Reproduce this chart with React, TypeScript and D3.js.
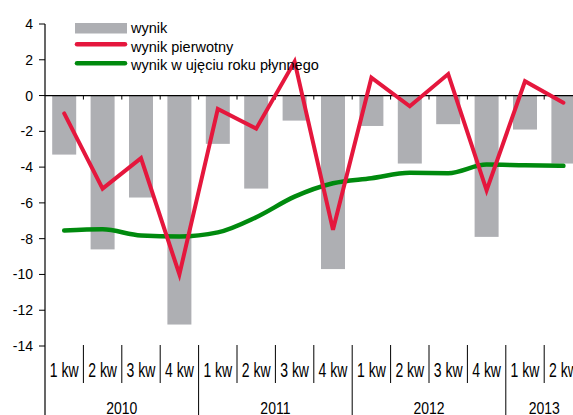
import React from "react";
import * as d3 from "d3";

const quarters = ["1 kw","2 kw","3 kw","4 kw","1 kw","2 kw","3 kw","4 kw","1 kw","2 kw","3 kw","4 kw","1 kw","2 kw"];
const years = ["2010","2011","2012","2013"];
const yearSpans = [4,4,4,2];
const wynik = [-3.3,-8.6,-5.7,-12.8,-2.7,-5.2,-1.4,-9.7,-1.7,-3.8,-1.6,-7.9,-1.9,-3.8];
const pierwotny = [-1.0,-5.2,-3.5,-10.0,-0.75,-1.85,1.9,-7.5,1.0,-0.6,1.2,-5.3,0.8,-0.4];
const roczny = [-7.55,-7.48,-7.82,-7.88,-7.65,-6.8,-5.65,-4.9,-4.62,-4.32,-4.34,-3.86,-3.9,-3.93];
const yTicks = [4,2,0,-2,-4,-6,-8,-10,-12,-14];
const legendLabels = ["wynik","wynik pierwotny","wynik w ujęciu roku płynnego"];

const W = 573, H = 415;
const FONT = "'Liberation Sans', Arial, sans-serif";

export default function App() {
  const x0 = 45, x1 = 45 + 38.4 * 14;
  const idx = quarters.map((_, i) => i);
  const x = d3.scaleBand<number>().domain(idx).range([x0, x1]).paddingInner(0.375).paddingOuter(0.1875);
  const xb = (i: number) => x0 + (x1 - x0) / 14 * i;
  const cx = (i: number) => (x(i) as number) + x.bandwidth() / 2;
  const y = d3.scaleLinear().domain([-14, 4]).range([346, 24]);
  const red = d3.line<number>().x((_, i) => cx(i)).y(d => y(d));
  const green = d3.line<number>().x((_, i) => cx(i)).y(d => y(d)).curve(d3.curveMonotoneX);

  let acc = 0;
  const yearBounds = yearSpans.map(s => { const a = acc; acc += s; return [a, acc]; });

  return (
    <svg width={W} height={H} style={{ position: "absolute", left: 0, top: 0, background: "#fff" }} fontFamily={FONT}>
      {/* bars */}
      {wynik.map((v, i) => (
        <rect key={i} x={x(i)} y={y(0)} width={x.bandwidth()} height={y(v) - y(0)} fill="#AEAFB3" />
      ))}
      {/* zero line */}
      <line x1={x0} x2={W} y1={y(0)} y2={y(0)} stroke="#000" strokeWidth={1.2} />
      {idx.slice(1).map(i => (
        <line key={i} x1={xb(i)} x2={xb(i)} y1={y(0)} y2={y(0) + 4} stroke="#000" strokeWidth={1} />
      ))}
      {/* y axis */}
      <line x1={x0} x2={x0} y1={y(4)} y2={H} stroke="#000" strokeWidth={1.2} />
      {yTicks.map(t => (
        <g key={t}>
          <line x1={x0 - 6} x2={x0} y1={y(t)} y2={y(t)} stroke="#000" strokeWidth={1} />
          <text x={33} y={y(t)} dy="0.36em" textAnchor="end" fontSize={14} fill="#000">{t}</text>
        </g>
      ))}
      {/* lines */}
      <path d={green(roczny) || ""} fill="none" stroke="#008A0E" strokeWidth={4.5} strokeLinecap="round" />
      <path d={red(pierwotny) || ""} fill="none" stroke="#E5173D" strokeWidth={4} strokeLinejoin="miter" strokeLinecap="round" />
      {/* category axis */}
      {idx.slice(1).map(i => (
        <line key={"s" + i} x1={xb(i)} x2={xb(i)} y1={345} y2={i % 4 === 0 ? H : 383} stroke="#000" strokeWidth={1} />
      ))}
      {quarters.map((q, i) => (
        <text key={"q" + i} transform={`translate(${cx(i)},377) scale(1,1.4)`} textAnchor="middle" fontSize={14} fill="#000">{q}</text>
      ))}
      {years.map((yr, k) => (
        <text key={yr} transform={`translate(${(xb(yearBounds[k][0]) + xb(yearBounds[k][1])) / 2},413.5) scale(1,1.2)`} textAnchor="middle" fontSize={14} fill="#000">{yr}</text>
      ))}
      {/* legend */}
      <rect x={75} y={23} width={52} height={10.5} fill="#AEAFB3" />
      <line x1={77} x2={125} y1={44.3} y2={44.3} stroke="#E5173D" strokeWidth={4.5} strokeLinecap="round" />
      <line x1={77} x2={125} y1={63.3} y2={63.3} stroke="#008A0E" strokeWidth={4.5} strokeLinecap="round" />
      {legendLabels.map((l, i) => (
        <text key={l} x={131} y={33.3 + i * 18.4} fontSize={14.5} fill="#000">{l}</text>
      ))}
    </svg>
  );
}
